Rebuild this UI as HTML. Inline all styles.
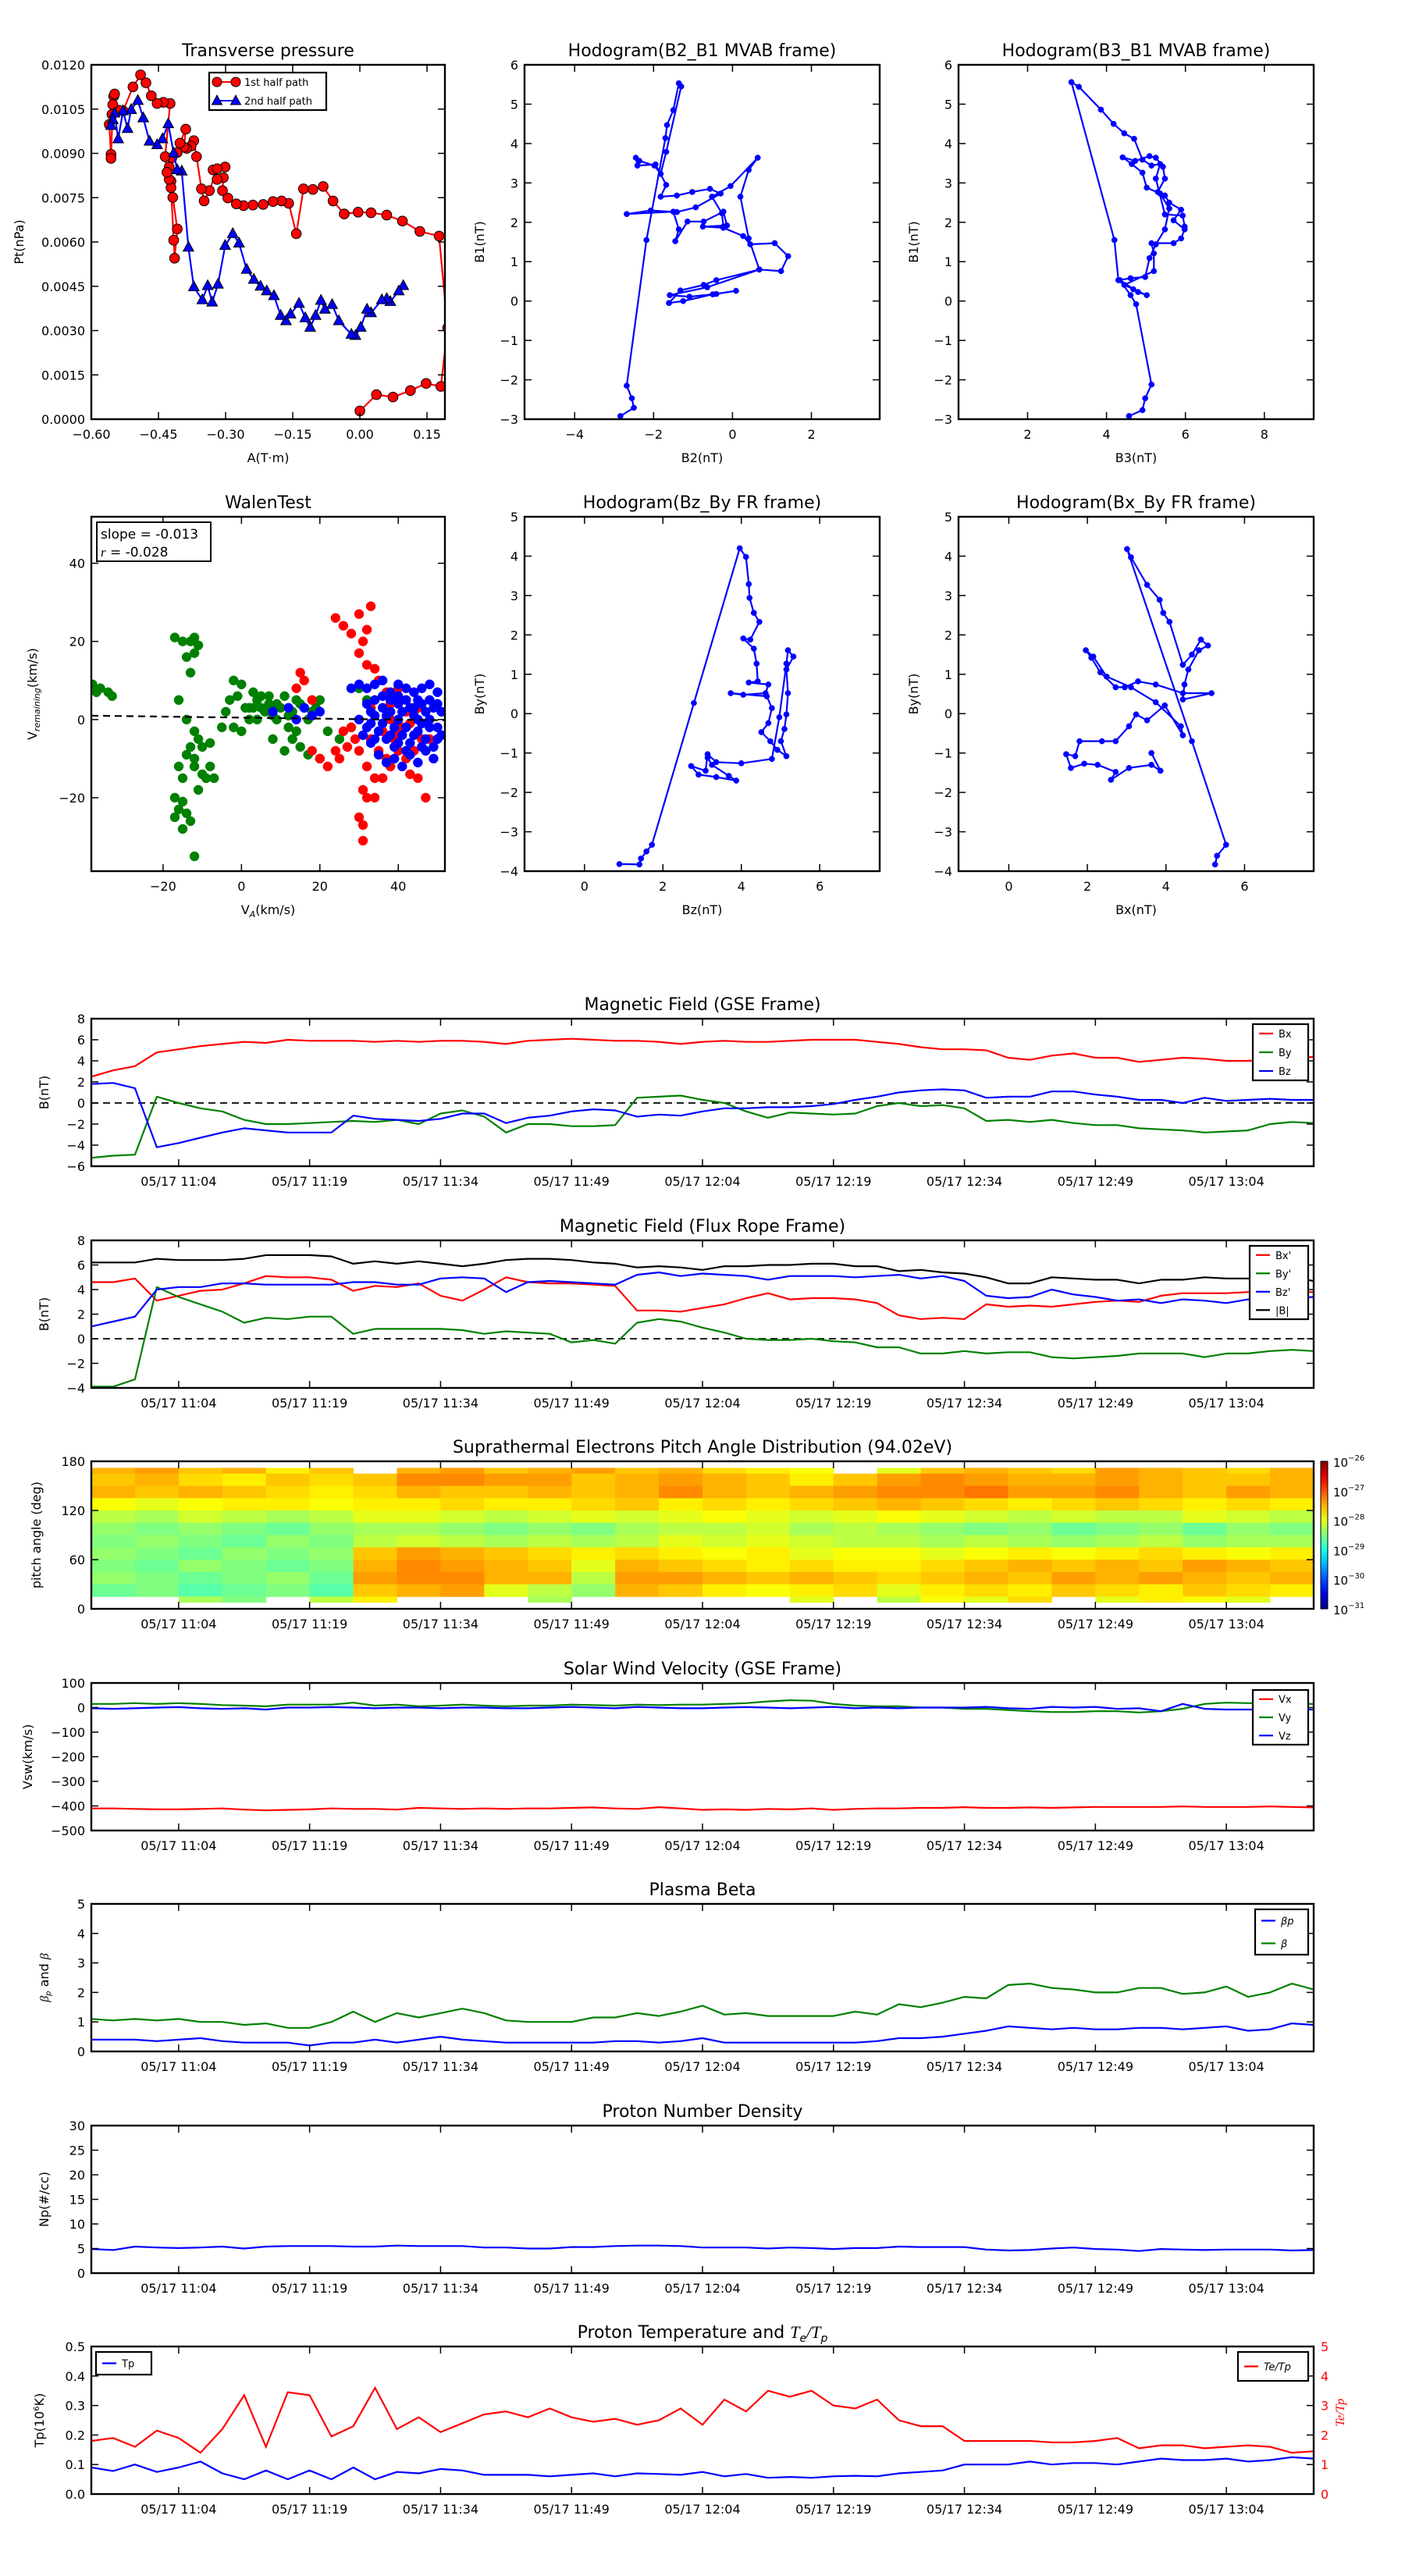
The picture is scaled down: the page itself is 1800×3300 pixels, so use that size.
<!DOCTYPE html>
<html><head><meta charset="utf-8">
<style>
html,body{margin:0;padding:0;background:#fff;}
svg{display:block;font-family:"DejaVu Sans","Liberation Sans",sans-serif;}
</style></head>
<body>
<svg id="fig" xmlns="http://www.w3.org/2000/svg" width="1800" height="3300" viewBox="0 0 1800 3300">
<rect x="0" y="0" width="1800" height="3300" fill="#fff"/>
</svg>
<script>
// ---------------- DATA ----------------
const tMin=[0,2.5,5,7.5,10,12.5,15,17.5,20,22.5,25,27.5,30,32.5,35,37.5,40,42.5,45,47.5,50,52.5,55,57.5,60,62.5,65,67.5,70,72.5,75,77.5,80,82.5,85,87.5,90,92.5,95,97.5,100,102.5,105,107.5,110,112.5,115,117.5,120,122.5,125,127.5,130,132.5,135,137.5,140];
const timeTicks=[10,25,40,55,70,85,100,115,130];
const timeTickLabels=['05/17 11:04','05/17 11:19','05/17 11:34','05/17 11:49','05/17 12:04','05/17 12:19','05/17 12:34','05/17 12:49','05/17 13:04'];

const gseBx=[2.5,3.1,3.5,4.8,5.1,5.4,5.6,5.8,5.7,6.0, 5.9,5.9,5.9,5.8,5.9,5.8,5.9,5.9,5.8,5.6, 5.9,6.0,6.1,6.0,5.9,5.9,5.8,5.6,5.8,5.9, 5.8,5.8,5.9,6.0,6.0,6.0,5.8,5.6,5.3,5.1, 5.1,5.0,4.3,4.1,4.5,4.7,4.3,4.3,3.9,4.1, 4.3,4.2,4.0,4.0,4.1,4.1,4.4];
const gseBy=[-5.2,-5.0,-4.9,0.6,0.0,-0.5,-0.8,-1.6,-2.0,-2.0, -1.9,-1.8,-1.7,-1.8,-1.6,-2.0,-1.0,-0.7,-1.3,-2.8, -2.0,-2.0,-2.2,-2.2,-2.1,0.5,0.6,0.7,0.3,0.0, -0.8,-1.4,-0.9,-1.0,-1.1,-1.0,-0.3,0.0,-0.3,-0.2, -0.5,-1.7,-1.6,-1.8,-1.6,-1.9,-2.1,-2.1,-2.4,-2.5, -2.6,-2.8,-2.7,-2.6,-2.0,-1.8,-1.9];
const gseBz=[1.8,1.9,1.4,-4.2,-3.8,-3.3,-2.8,-2.4,-2.6,-2.8, -2.8,-2.8,-1.2,-1.5,-1.6,-1.7,-1.5,-1.0,-1.0,-1.9, -1.4,-1.2,-0.8,-0.6,-0.7,-1.3,-1.1,-1.2,-0.8,-0.5, -0.5,-0.4,-0.4,-0.3,-0.1,0.3,0.6,1.0,1.2,1.3, 1.2,0.5,0.6,0.6,1.1,1.1,0.8,0.6,0.3,0.3, 0.0,0.5,0.2,0.3,0.4,0.3,0.3];

const frBx=[4.6,4.6,4.9,3.1,3.5,3.9,4.0,4.5,5.1,5.0, 5.0,4.8,3.9,4.3,4.2,4.5,3.5,3.1,4.0,5.0, 4.6,4.5,4.5,4.4,4.3,2.3,2.3,2.2,2.5,2.8, 3.3,3.7,3.2,3.3,3.3,3.2,2.9,1.9,1.6,1.7, 1.6,2.8,2.6,2.7,2.6,2.8,3.0,3.1,3.0,3.5, 3.7,3.7,3.7,3.8,3.8,3.8,3.8];
const frBy=[-3.9,-3.9,-3.3,4.2,3.4,2.8,2.2,1.3,1.7,1.6, 1.8,1.8,0.4,0.8,0.8,0.8,0.8,0.7,0.4,0.6, 0.5,0.4,-0.3,-0.1,-0.4,1.3,1.6,1.4,0.9,0.5, 0.0,-0.1,-0.1,0.0,-0.2,-0.3,-0.7,-0.7,-1.2,-1.2, -1.0,-1.2,-1.1,-1.1,-1.5,-1.6,-1.5,-1.4,-1.2,-1.2, -1.2,-1.5,-1.2,-1.2,-1.0,-0.9,-1.0];
const frBz=[1.0,1.4,1.8,4.0,4.2,4.2,4.5,4.5,4.4,4.4, 4.4,4.4,4.6,4.6,4.4,4.4,4.9,5.0,4.9,3.8, 4.6,4.7,4.6,4.5,4.4,5.2,5.4,5.1,5.3,5.2, 5.1,4.8,5.1,5.1,5.1,5.0,5.1,5.2,4.9,5.1, 4.7,3.5,3.3,3.4,4.0,3.6,3.4,3.1,3.2,2.9, 3.2,3.1,2.9,3.2,3.2,3.3,3.4];
const frB=[6.2,6.2,6.2,6.5,6.4,6.4,6.4,6.5,6.8,6.8, 6.8,6.7,6.1,6.3,6.1,6.3,6.1,5.9,6.1,6.4, 6.5,6.5,6.4,6.2,6.1,5.8,5.9,5.8,5.6,5.9, 5.9,6.0,6.0,6.1,6.1,5.9,5.9,5.5,5.6,5.4, 5.3,5.0,4.5,4.5,5.0,4.9,4.8,4.8,4.5,4.8, 4.8,5.0,4.9,4.9,5.0,5.0,4.7];

const swVx=[-410,-410,-412,-414,-414,-412,-410,-415,-418,-416, -414,-410,-412,-412,-415,-408,-410,-412,-410,-412, -410,-410,-408,-406,-410,-412,-405,-410,-416,-414, -416,-412,-414,-410,-416,-412,-410,-410,-408,-408, -405,-408,-408,-406,-408,-406,-404,-404,-404,-404, -402,-404,-404,-404,-402,-404,-406];
const swVy=[15,15,18,15,18,15,10,8,5,12, 12,12,20,8,12,5,8,12,8,5, 8,8,12,10,8,12,10,12,12,15, 18,25,30,28,15,8,5,5,0,0, -5,-5,-10,-15,-18,-18,-15,-15,-20,-15, -5,15,20,18,18,15,15];
const swVz=[-3,-5,-3,0,2,-3,-5,-3,-8,0, 0,2,0,-3,0,0,-3,0,0,-3, -3,0,3,0,-3,3,0,-3,-3,0, 2,0,-3,0,3,-3,0,-3,0,0, 0,3,-3,-5,3,0,3,-5,-3,-15, 15,-5,-8,-8,-8,-8,-8];

const betaTot=[1.1,1.05,1.1,1.05,1.1,1.0,1.0,0.9,0.95,0.8, 0.8,1.0,1.35,1.0,1.3,1.15,1.3,1.45,1.3,1.05, 1.0,1.0,1.0,1.15,1.15,1.3,1.2,1.35,1.55,1.25, 1.3,1.2,1.2,1.2,1.2,1.35,1.25,1.6,1.5,1.65, 1.85,1.8,2.25,2.3,2.15,2.1,2.0,2.0,2.15,2.15, 1.95,2.0,2.2,1.85,2.0,2.3,2.1];
const betaP=[0.4,0.4,0.4,0.35,0.4,0.45,0.35,0.3,0.3,0.3, 0.2,0.3,0.3,0.4,0.3,0.4,0.5,0.4,0.35,0.3, 0.3,0.3,0.3,0.3,0.35,0.35,0.3,0.35,0.45,0.3, 0.3,0.3,0.3,0.3,0.3,0.3,0.35,0.45,0.45,0.5, 0.6,0.7,0.85,0.8,0.75,0.8,0.75,0.75,0.8,0.8, 0.75,0.8,0.85,0.7,0.75,0.95,0.9];

const npVals=[4.9,4.7,5.4,5.2,5.1,5.2,5.4,5.0,5.4,5.5, 5.5,5.5,5.4,5.4,5.6,5.5,5.5,5.5,5.2,5.2, 5.0,5.0,5.3,5.3,5.5,5.6,5.6,5.5,5.2,5.2, 5.2,5.0,5.2,5.1,4.9,5.1,5.1,5.4,5.3,5.3, 5.3,4.8,4.6,4.7,5.0,5.2,4.9,4.8,4.5,4.9, 4.8,4.7,4.8,4.8,4.8,4.6,4.7];

const tpVals=[0.09,0.078,0.1,0.075,0.09,0.11,0.07,0.05,0.08,0.05, 0.08,0.05,0.09,0.05,0.075,0.07,0.085,0.08,0.065,0.065, 0.065,0.06,0.065,0.07,0.06,0.07,0.068,0.065,0.075,0.06, 0.068,0.055,0.058,0.055,0.06,0.062,0.06,0.07,0.075,0.08, 0.1,0.1,0.1,0.11,0.1,0.105,0.105,0.1,0.11,0.12, 0.115,0.115,0.12,0.11,0.115,0.125,0.12];
const teTpVals=[1.8,1.9,1.6,2.15,1.9,1.4,2.2,3.35,1.6,3.45, 3.35,1.95,2.3,3.6,2.2,2.6,2.1,2.4,2.7,2.8, 2.6,2.9,2.6,2.45,2.55,2.35,2.5,2.9,2.35,3.2, 2.8,3.5,3.3,3.5,3.0,2.9,3.2,2.5,2.3,2.3, 1.8,1.8,1.8,1.8,1.75,1.75,1.8,1.9,1.55,1.65, 1.65,1.55,1.6,1.65,1.6,1.4,1.45];

// Pitch angle distribution: log10 flux, rows top (high angle) -> bottom
const padColT=[0,5,10,15,20,25,30,35,40,45,50,55,60,65,70,75,80,85,90,95,100,105,110,115,120,125,130,135,140];
const padAngEdges=[172,165,150,135,120,105,90,75,60,45,30,15,8];
const padRows=[
[-27.5,-27.4,-27.6,-27.5,-27.8,-27.6,null,-27.5,-27.4,-27.6,-27.5,-27.4,-27.6,-27.5,-27.7,-27.8,-27.9,null,-28.0,-27.6,-27.5,-27.6,-27.7,-27.4,-27.5,-27.6,-27.7,-27.5],
[-27.6,-27.5,-27.7,-27.8,-27.6,-27.7,-27.6,-27.3,-27.3,-27.4,-27.4,-27.6,-27.5,-27.4,-27.5,-27.6,-27.8,-27.6,-27.4,-27.3,-27.4,-27.5,-27.5,-27.4,-27.5,-27.6,-27.6,-27.5],
[-27.5,-27.6,-27.5,-27.6,-27.7,-27.8,-27.7,-27.5,-27.6,-27.6,-27.5,-27.6,-27.5,-27.3,-27.5,-27.6,-27.5,-27.4,-27.3,-27.3,-27.2,-27.4,-27.4,-27.3,-27.5,-27.6,-27.4,-27.5],
[-27.9,-28.0,-27.9,-27.8,-27.8,-27.9,-27.8,-27.8,-27.7,-27.8,-27.8,-27.7,-27.6,-27.8,-27.7,-27.8,-27.7,-27.6,-27.5,-27.6,-27.7,-27.8,-27.7,-27.6,-27.7,-27.8,-27.7,-27.8],
[-28.2,-28.3,-28.1,-28.2,-28.3,-28.2,-28.0,-28.0,-28.1,-28.2,-28.1,-28.0,-28.1,-28.0,-27.9,-28.0,-28.1,-28.0,-27.9,-28.0,-28.1,-28.2,-28.1,-28.2,-28.2,-28.0,-28.1,-28.2],
[-28.4,-28.5,-28.4,-28.5,-28.6,-28.4,-28.3,-28.3,-28.4,-28.5,-28.4,-28.5,-28.3,-28.2,-28.2,-28.1,-28.3,-28.2,-28.3,-28.4,-28.5,-28.4,-28.6,-28.5,-28.4,-28.6,-28.4,-28.5],
[-28.5,-28.4,-28.5,-28.6,-28.4,-28.5,-28.2,-28.1,-28.2,-28.3,-28.2,-28.3,-28.2,-28.0,-28.1,-28.0,-28.1,-28.2,-28.2,-28.3,-28.2,-28.3,-28.4,-28.3,-28.2,-28.4,-28.3,-28.3],
[-28.4,-28.5,-28.6,-28.4,-28.5,-28.4,-27.6,-27.4,-27.5,-27.6,-27.7,-27.8,-27.7,-27.8,-27.9,-27.8,-28.0,-27.9,-27.9,-28.0,-27.9,-27.8,-27.9,-27.8,-27.7,-27.8,-27.9,-27.8],
[-28.5,-28.6,-28.4,-28.5,-28.6,-28.5,-27.5,-27.3,-27.4,-27.5,-27.6,-28.0,-27.5,-27.6,-27.7,-27.8,-27.7,-27.8,-27.8,-27.7,-27.6,-27.5,-27.6,-27.5,-27.6,-27.4,-27.5,-27.6],
[-28.4,-28.5,-28.6,-28.5,-28.4,-28.6,-27.4,-27.3,-27.3,-27.5,-27.5,-28.2,-27.4,-27.4,-27.5,-27.6,-27.5,-27.6,-27.7,-27.6,-27.5,-27.6,-27.4,-27.5,-27.4,-27.5,-27.6,-27.5],
[-28.6,-28.5,-28.7,-28.6,-28.5,-28.7,-27.6,-27.5,-27.4,-28.0,-28.2,-28.4,-27.5,-27.6,-27.8,-27.9,-27.8,-27.7,-28.0,-27.8,-27.7,-27.8,-27.6,-27.7,-27.8,-27.6,-27.7,-27.8],
[null,null,-28.3,-28.5,null,-28.2,-27.8,null,null,null,-28.3,null,null,null,null,null,-28.0,null,-28.2,-27.9,-28.0,-27.7,null,-28.0,-27.8,-27.9,-28.0,null]
];

// Transverse pressure
const pt1A=[0.000,0.037,0.074,0.113,0.148,0.181,0.196,0.177,0.134,0.095,0.060,0.025,-0.004,-0.035,-0.060,-0.082,-0.105,-0.126,-0.142,-0.159,-0.175,-0.194,-0.216,-0.239,-0.260,-0.276,-0.295,-0.307,-0.305,-0.319,-0.328,-0.301,-0.319,-0.336,-0.348,-0.354,-0.365,-0.371,-0.377,-0.387,-0.393,-0.389,-0.402,-0.408,-0.420,-0.426,-0.422,-0.418,-0.408,-0.414,-0.416,-0.422,-0.426,-0.431,-0.435,-0.424,-0.439,-0.453,-0.466,-0.478,-0.490,-0.507,-0.529,-0.538,-0.550,-0.554,-0.560,-0.556,-0.556,-0.552,-0.548];
const pt1P=[0.00028,0.00083,0.00075,0.00097,0.00121,0.00111,0.00309,0.00620,0.00636,0.00671,0.00691,0.00699,0.00701,0.00695,0.00739,0.00788,0.00778,0.00780,0.00628,0.00731,0.00739,0.00737,0.00727,0.00725,0.00723,0.00729,0.00749,0.00774,0.00818,0.00812,0.00844,0.00854,0.00848,0.00774,0.00739,0.00780,0.00889,0.00943,0.00925,0.00917,0.00921,0.00982,0.00935,0.00903,0.00885,0.00854,0.00806,0.00751,0.00644,0.00545,0.00606,0.00784,0.00812,0.00836,0.00889,0.01069,0.01073,0.01069,0.01095,0.01139,0.01166,0.01125,0.01044,0.01046,0.01093,0.01032,0.00998,0.00897,0.00883,0.01065,0.01101];
const pt2A=[0.097,0.087,0.068,0.060,0.049,0.025,0.016,0.002,-0.010,-0.019,-0.047,-0.062,-0.078,-0.087,-0.099,-0.111,-0.122,-0.136,-0.155,-0.165,-0.177,-0.192,-0.208,-0.222,-0.237,-0.253,-0.270,-0.284,-0.301,-0.317,-0.330,-0.340,-0.352,-0.371,-0.383,-0.398,-0.408,-0.416,-0.428,-0.441,-0.453,-0.470,-0.484,-0.496,-0.511,-0.519,-0.529,-0.540,-0.548,-0.552,-0.556];
const pt2P=[0.00452,0.00434,0.00398,0.00408,0.00404,0.00360,0.00372,0.00311,0.00283,0.00287,0.00333,0.00388,0.00372,0.00402,0.00351,0.00311,0.00343,0.00392,0.00356,0.00333,0.00351,0.00418,0.00434,0.00450,0.00473,0.00507,0.00596,0.00628,0.00588,0.00457,0.00396,0.00452,0.00404,0.00448,0.00582,0.00840,0.00844,0.00901,0.01000,0.00949,0.00929,0.00941,0.01020,0.01079,0.01048,0.00984,0.01044,0.00949,0.01036,0.01014,0.00994];

// Hodograms
const h1B2=[-2.84,-2.50,-2.55,-2.68,-2.18,-1.70,-1.66,-1.50,-1.36,-1.30,-1.68,-1.82,-1.98,-2.36,-2.45,-2.41,-1.95,-1.68,-1.82,-1.41,-1.02,-0.57,-0.30,-0.93,-1.41,-2.07,-2.68,-1.50,-1.36,-1.45,-1.14,-0.73,-0.23,-0.14,-0.75,-0.23,0.27,0.45,1.07,1.41,1.23,0.68,-0.41,-0.73,-1.32,-1.61,-1.25,-0.50,0.09,-0.41,-1.09,-1.59,-0.64,0.68,0.41,0.20,0.41,0.64,-0.05,-0.52,-0.27,-0.23];
const h1B1=[-2.92,-2.71,-2.47,-2.15,1.55,4.14,4.47,4.85,5.53,5.45,3.79,3.23,3.44,3.56,3.64,3.44,3.47,2.95,2.65,2.68,2.77,2.85,2.73,2.38,2.26,2.30,2.21,2.27,1.82,1.52,2.02,2.02,2.27,1.92,1.89,1.86,1.65,1.44,1.47,1.14,0.76,0.80,0.53,0.41,0.27,-0.05,0.00,0.17,0.26,0.18,0.11,0.15,0.35,0.80,1.59,2.65,3.33,3.64,2.92,2.65,2.23,1.89];
const h2B3=[4.57,4.91,4.98,5.14,4.75,4.61,4.34,4.80,5.02,4.68,4.45,5.20,5.20,5.14,5.70,5.89,5.98,5.70,5.89,5.59,5.48,5.30,5.48,5.43,5.25,5.09,4.73,4.41,4.64,4.91,5.02,5.36,5.59,5.48,5.25,5.09,4.98,4.61,4.30,4.20,3.11,3.30,3.86,4.18,4.45,4.70,4.91,5.14,5.36,5.25,5.48,5.93,5.98];
const h2B1=[-2.92,-2.77,-2.47,-2.12,-0.08,0.15,0.53,0.23,0.15,0.30,0.41,0.76,1.21,1.47,1.47,1.59,1.82,2.05,2.32,2.50,2.68,2.77,3.11,3.41,3.64,3.68,3.56,3.65,3.48,3.26,2.88,2.73,2.35,1.82,1.44,1.09,0.61,0.58,0.53,1.55,5.56,5.44,4.86,4.50,4.26,4.12,3.59,3.44,3.48,3.11,2.20,2.17,1.89];
const h3Bz=[0.89,1.40,1.44,1.58,1.72,2.79,3.96,4.12,4.19,4.21,4.32,4.46,4.23,4.05,4.32,4.39,4.42,4.19,4.69,4.62,4.05,3.73,4.65,4.78,4.69,4.51,4.74,4.92,5.15,5.01,5.10,5.15,5.19,5.15,5.33,5.19,5.15,4.97,4.78,4.00,3.36,3.14,3.09,2.72,2.91,3.36,3.87,3.68,3.25,3.14];
const h3By=[-3.82,-3.83,-3.68,-3.50,-3.33,0.27,4.20,3.98,3.29,2.94,2.56,2.33,1.88,1.91,1.65,1.27,0.82,0.79,0.74,0.52,0.48,0.52,0.44,0.14,-0.24,-0.47,-0.70,-0.92,-1.08,-0.70,-0.39,-0.02,0.52,1.12,1.45,1.61,1.27,-0.09,-1.15,-1.26,-1.23,-1.03,-1.45,-1.33,-1.55,-1.61,-1.70,-1.58,-1.30,-1.12];
const h4Bx=[5.25,5.30,5.53,4.66,3.01,3.11,3.52,3.84,3.93,4.09,4.43,4.66,4.89,5.07,4.84,4.57,4.47,4.43,5.16,4.43,3.74,3.29,2.95,2.72,2.33,2.10,1.96,2.15,2.49,3.11,3.74,4.38,4.43,3.97,3.52,3.24,3.06,2.72,2.37,1.80,1.69,1.46,1.58,1.92,2.26,2.72,2.60,3.06,3.63,3.86,3.63];
const h4By=[-3.83,-3.61,-3.33,-0.70,4.18,3.97,3.27,2.89,2.56,2.33,1.24,1.50,1.88,1.73,1.61,1.12,0.74,0.36,0.52,0.52,0.74,0.82,0.67,0.67,1.05,1.42,1.61,1.45,0.94,0.67,0.29,-0.32,-0.55,0.21,-0.17,-0.02,-0.32,-0.70,-0.70,-0.70,-1.08,-1.03,-1.38,-1.27,-1.30,-1.48,-1.68,-1.38,-1.30,-1.45,-1.00];

// Walen test
const walenGreen=[[-38,9],[-37,7],[-36,8],[-34,7],[-33,6],[-17,21],[-15,20],[-13,20],[-12,21],[-11,19],[-12,17],[-14,16],[-13,12],[-16,5],[-14,0],[-12,-3],[-11,-5],[-13,-7],[-14,-9],[-12,-10],[-10,-7],[-8,-6],[-16,-12],[-15,-15],[-12,-12],[-10,-14],[-8,-12],[-7,-15],[-17,-20],[-15,-21],[-16,-23],[-17,-25],[-15,-28],[-13,-26],[-14,-24],[-12,-35],[-9,-15],[-11,-18],[-5,-2],[-4,2],[-3,5],[-2,10],[0,9],[-1,6],[1,3],[2,0],[3,7],[4,5],[5,3],[6,2],[7,6],[8,1],[9,4],[10,3],[11,6],[12,1],[13,2],[14,5],[15,4],[16,3],[17,0],[18,2],[19,3],[20,5],[8,-5],[11,-8],[13,-5],[15,-7],[14,-3],[17,-9],[20,-10],[22,-3],[25,-5],[28,-2],[-2,-2],[0,-3],[2,3],[5,6],[7,4],[3,3],[4,0],[9,0],[12,-2],[30,8],[32,5]];
const walenRed=[[24,26],[26,24],[28,22],[30,27],[31,20],[32,23],[33,29],[30,17],[32,14],[34,13],[35,10],[37,7],[38,4],[40,8],[42,5],[44,2],[46,-1],[48,-5],[26,-3],[28,-2],[30,-8],[32,-12],[34,-15],[31,-18],[32,-20],[31,-27],[30,-25],[31,-31],[34,-20],[36,-15],[38,-12],[40,-8],[43,-14],[45,-15],[47,-20],[42,-10],[36,-3],[38,0],[40,-3],[42,2],[44,-8],[46,-5],[25,-10],[27,-7],[29,-5],[33,-5],[35,-8],[37,-10],[39,-5],[41,-2],[43,-1],[45,3],[15,12],[16,10],[14,8],[18,-8],[20,-10],[22,-12],[24,-8],[18,5],[33,3]];
const walenBlue=[[8,2],[12,3],[16,3],[18,1],[14,0],[20,2],[28,8],[30,9],[32,8],[34,9],[36,10],[38,7],[40,9],[42,8],[44,7],[46,8],[48,9],[50,7],[30,0],[32,-2],[34,1],[36,-1],[38,2],[40,0],[42,-2],[44,1],[46,-1],[48,0],[50,-2],[51,2],[31,-4],[33,-6],[35,-3],[37,-5],[39,-7],[41,-4],[43,-6],[45,-3],[47,-5],[49,-7],[51,-4],[32,4],[34,5],[36,3],[38,5],[40,4],[42,5],[44,3],[46,4],[48,5],[50,4],[35,-9],[37,-11],[39,-10],[41,-12],[43,-9],[45,-11],[47,-8],[49,-10],[33,-1],[37,1],[41,2],[45,0],[49,3],[39,-2],[43,3],[47,2],[34,-5],[40,-6],[46,-7],[50,-5],[36,6],[42,-8],[44,-4],[48,-2],[38,-4],[45,5],[40,6],[33,2]];
const walenSlope=-0.013;
const walenIntercept=0.5;

// ---------------- DRAWING ----------------
const NS='http://www.w3.org/2000/svg';
const svg=document.getElementById('fig');
let clipId=0;
function mk(tag,attrs,parent){const e=document.createElementNS(NS,tag);for(const k in attrs)e.setAttribute(k,attrs[k]);(parent||svg).appendChild(e);return e;}
function txt(s,attrs,parent){const e=mk('text',attrs,parent);e.textContent=s;return e;}
function fmtMinus(s){return String(s).replace('-','\u2212');}

function makeAxes(name,L,T,W,H,xmin,xmax,ymin,ymax){
  const g=mk('g',{});
  
  
  const id='clip'+(clipId++);
  const cp=mk('clipPath',{id:id},g);
  mk('rect',{x:L,y:T,width:W,height:H},cp);
  const sx=v=>L+(v-xmin)/(xmax-xmin)*W;
  const sy=v=>T+H-(v-ymin)/(ymax-ymin)*H;
  const inner=mk('g',{'clip-path':'url(#'+id+')'},g);
  
  
  return {g,inner,sx,sy,L,T,W,H};
}
function frame(ax){
  const r=mk('rect',{x:ax.L,y:ax.T,width:ax.W,height:ax.H,fill:'none',stroke:'#000','stroke-width':2.4},ax.g);
  
  
}
function title(ax,s){
  const t=txt(s,{x:ax.L+ax.W/2,y:ax.T-11,'text-anchor':'middle','font-size':22},ax.g);
  
  
  return t;
}
function xTicks(ax,vals,labels){
  vals.forEach((v,i)=>{
    const x=ax.sx(v);
    const a=mk('line',{x1:x,x2:x,y1:ax.T+ax.H,y2:ax.T+ax.H-9,stroke:'#000','stroke-width':1.5},ax.g);
    
    
    const b=mk('line',{x1:x,x2:x,y1:ax.T,y2:ax.T+9,stroke:'#000','stroke-width':1.5},ax.g);
    
    
    const t=txt(fmtMinus(labels[i]),{x:x,y:ax.T+ax.H+25,'text-anchor':'middle','font-size':16},ax.g);
    
    
  });
}
function yTicks(ax,vals,labels,right,color){
  vals.forEach((v,i)=>{
    const y=ax.sy(v);
    if(!right){
      const a=mk('line',{x1:ax.L,x2:ax.L+9,y1:y,y2:y,stroke:'#000','stroke-width':1.5},ax.g);
      
      
      const t=txt(fmtMinus(labels[i]),{x:ax.L-8,y:y+6,'text-anchor':'end','font-size':16},ax.g);
      
      
    }
    if(right!==false||!right){
      const b=mk('line',{x1:ax.L+ax.W,x2:ax.L+ax.W-9,y1:y,y2:y,stroke:'#000','stroke-width':1.5},ax.g);
      
      
    }
    if(right){
      const t=txt(labels[i],{x:ax.L+ax.W+9,y:y+6,'text-anchor':'start','font-size':16,fill:color},ax.g);
      
      
    }
  });
}
function xLabel(ax,s,dy){
  const t=txt(s,{x:ax.L+ax.W/2,y:ax.T+ax.H+(dy||55),'text-anchor':'middle','font-size':16},ax.g);
  
  
  return t;
}
function yLabel(ax,s,x,color){
  const cy=ax.T+ax.H/2;
  const t=txt(s,{x:x,y:cy,'text-anchor':'middle','font-size':16,transform:'rotate(-90 '+x+' '+cy+')',fill:color||'#000'},ax.g);
  
  
  return t;
}
function line(ax,xs,ys,color,name,dash){
  const n=Math.min(xs.length,ys.length);
  let pts=[];
  for(let i=0;i<n;i++)pts.push(ax.sx(xs[i]).toFixed(1)+','+ax.sy(ys[i]).toFixed(1));
  const p=mk('polyline',{points:pts.join(' '),fill:'none',stroke:color,'stroke-width':2.2,'stroke-linejoin':'round'},ax.inner);
  if(dash)p.setAttribute('stroke-dasharray',dash);
  
  
  return p;
}
function dots(ax,xs,ys,color,r,name){
  const n=Math.min(xs.length,ys.length);
  for(let i=0;i<n;i++){
    const c=mk('circle',{cx:ax.sx(xs[i]),cy:ax.sy(ys[i]),r:r,fill:color,stroke:color,'stroke-width':0.5},ax.inner);
    
    
  }
}
function zeroLine(ax,xmin,xmax){
  const l=mk('line',{x1:ax.sx(xmin),x2:ax.sx(xmax),y1:ax.sy(0),y2:ax.sy(0),stroke:'#000','stroke-width':1.8,'stroke-dasharray':'9,6'},ax.inner);
  
  
}
function legendBox(ax,x,y,w,h,items,name){
  const g=mk('g',{},ax.g);
  
  
  const r=mk('rect',{x:x,y:y,width:w,height:h,fill:'#fff',stroke:'#000','stroke-width':2.2},g);
  
  
  const step=h/items.length;
  items.forEach((it,i)=>{
    const cy=y+step*(i+0.5);
    const l=mk('line',{x1:x+8,x2:x+26,y1:cy,y2:cy,stroke:it.c,'stroke-width':2.2},g);
    
    
    const t=txt(it.t,{x:x+33,y:cy+5,'font-size':13,'font-style':it.i?'italic':'normal'},g);
    
    
  });
  return g;
}

// ---------- Transverse pressure ----------
(function(){
  const ax=makeAxes('transverse-pressure-chart',117,83,453,454,-0.6,0.19,0,0.012);
  const A=pt1A, P=pt1P;
  line(ax,A,P,'#ff0000','first-half-path-line');
  A.forEach((a,i)=>{const c=mk('circle',{cx:ax.sx(a),cy:ax.sy(P[i]),r:6.3,fill:'#ff0000',stroke:'#000','stroke-width':1},ax.inner);
    
    });
  line(ax,pt2A,pt2P,'#0000ff','second-half-path-line');
  pt2A.forEach((a,i)=>{const x=ax.sx(a),y=ax.sy(pt2P[i]);
    const p=mk('polygon',{points:(x)+','+(y-7.5)+' '+(x-6.8)+','+(y+5)+' '+(x+6.8)+','+(y+5),fill:'#0000ff',stroke:'#000','stroke-width':1},ax.inner);
    
    });
  frame(ax);
  title(ax,'Transverse pressure');
  xTicks(ax,[-0.6,-0.45,-0.3,-0.15,0,0.15],['-0.60','-0.45','-0.30','-0.15','0.00','0.15']);
  yTicks(ax,[0,0.0015,0.003,0.0045,0.006,0.0075,0.009,0.0105,0.012],['0.0000','0.0015','0.0030','0.0045','0.0060','0.0075','0.0090','0.0105','0.0120']);
  xLabel(ax,'A(T·m)');
  yLabel(ax,'Pt(nPa)',30);
  const g=mk('g',{},ax.g);
  
  
  const r=mk('rect',{x:268,y:93,width:150,height:48,fill:'#fff',stroke:'#000','stroke-width':2.2},g);
  
  
  const l1=mk('line',{x1:278,x2:302,y1:105,y2:105,stroke:'#ff0000','stroke-width':2},g);
  
  
  [278,302].forEach(x=>{const c=mk('circle',{cx:x,cy:105,r:6,fill:'#ff0000',stroke:'#000','stroke-width':1},g);
    
    });
  const t1=txt('1st half path',{x:313,y:110,'font-size':13},g);
  
  
  const l2=mk('line',{x1:278,x2:302,y1:129,y2:129,stroke:'#0000ff','stroke-width':2},g);
  
  
  [278,302].forEach(x=>{const p=mk('polygon',{points:x+','+122+' '+(x-6.5)+','+134+' '+(x+6.5)+','+134,fill:'#0000ff',stroke:'#000','stroke-width':1},g);
    
    });
  const t2=txt('2nd half path',{x:313,y:134,'font-size':13},g);
  
  
})();

// ---------- Hodograms ----------
function hodo(name,L,T,xr,yr,xs,ys,xt,yt,ttl,xl,yl){
  const ax=makeAxes(name,L,T,455,454,xr[0],xr[1],yr[0],yr[1]);
  line(ax,xs,ys,'#0000ff','hodogram-path');
  dots(ax,xs,ys,'#0000ff',3.6,'hodogram-point');
  frame(ax);
  title(ax,ttl);
  xTicks(ax,xt,xt.map(String));
  yTicks(ax,yt,yt.map(String));
  xLabel(ax,xl);
  yLabel(ax,yl,L-52);
}
hodo('hodogram-b2-b1',672,83,[-5.27,3.73],[-3,6],h1B2,h1B1,[-4,-2,0,2],[-3,-2,-1,0,1,2,3,4,5,6],'Hodogram(B2_B1 MVAB frame)','B2(nT)','B1(nT)');
hodo('hodogram-b3-b1',1228,83,[0.25,9.25],[-3,6],h2B3,h2B1,[2,4,6,8],[-3,-2,-1,0,1,2,3,4,5,6],'Hodogram(B3_B1 MVAB frame)','B3(nT)','B1(nT)');
hodo('hodogram-bz-by',672,662,[-1.53,7.53],[-4,5],h3Bz,h3By,[0,2,4,6],[-4,-3,-2,-1,0,1,2,3,4,5],'Hodogram(Bz_By FR frame)','Bz(nT)','By(nT)');
hodo('hodogram-bx-by',1228,662,[-1.28,7.76],[-4,5],h4Bx,h4By,[0,2,4,6],[-4,-3,-2,-1,0,1,2,3,4,5],'Hodogram(Bx_By FR frame)','Bx(nT)','By(nT)');

// ---------- Walen test ----------
(function(){
  const ax=makeAxes('walen-test-chart',117,662,453,454,-38.3,51.9,-38.8,51.9);
  const gx=walenGreen.map(p=>p[0]), gy=walenGreen.map(p=>p[1]);
  const rx=walenRed.map(p=>p[0]), ry=walenRed.map(p=>p[1]);
  const bx=walenBlue.map(p=>p[0]), by=walenBlue.map(p=>p[1]);
  dots(ax,gx,gy,'#008000',6,'walen-point-green');
  dots(ax,rx,ry,'#ff0000',6,'walen-point-red');
  dots(ax,bx,by,'#0000ff',6,'walen-point-blue');
  const x0=-38.3,x1=51.9;
  line(ax,[x0,x1],[walenIntercept+walenSlope*x0,walenIntercept+walenSlope*x1],'#000','regression-line','9,6');
  frame(ax);
  title(ax,'WalenTest');
  xTicks(ax,[-20,0,20,40],['-20','0','20','40']);
  yTicks(ax,[-20,0,20,40],['-20','0','20','40']);
  const xl=xLabel(ax,'');
  xl.textContent='V';
  const s1=mk('tspan',{'font-size':11,dy:4,'font-style':'italic'},xl);s1.textContent='A';
  
  
  const s2=mk('tspan',{dy:-4},xl);s2.textContent='(km/s)';
  
  
  const yl=yLabel(ax,'',47);
  yl.textContent='V';
  const s3=mk('tspan',{'font-size':11,dy:4,'font-style':'italic'},yl);s3.textContent='remaining';
  
  
  const s4=mk('tspan',{dy:-4},yl);s4.textContent='(km/s)';
  
  
  const b=mk('rect',{x:124,y:669,width:146,height:50,fill:'#fff',stroke:'#000','stroke-width':2},ax.g);
  
  
  const t1=txt('slope = -0.013',{x:129,y:690,'font-size':17},ax.g);
  
  
  const t2=txt('',{x:129,y:713,'font-size':17},ax.g);
  
  
  const ti=mk('tspan',{'font-style':'italic','font-family':'Liberation Serif,serif'},t2);ti.textContent='r';
  
  
  const tr=mk('tspan',{},t2);tr.textContent=' = -0.028';
  
  
})();

// ---------- Time-series panels ----------
const TSL=117, TSW=1566, TSH=189;
function tsAxes(name,T,ymin,ymax,yt,ylab,ttl,ylx){
  const ax=makeAxes(name,TSL,T,TSW,TSH,0,140,ymin,ymax);
  ax.after=function(){
    frame(ax);
    title(ax,ttl);
    xTicks(ax,timeTicks,timeTickLabels);
    yTicks(ax,yt,yt.map(v=>String(v)));
    if(ylab)yLabel(ax,ylab,ylx||62);
  };
  return ax;
}

// GSE
(function(){
  const ax=tsAxes('magnetic-field-gse-chart',1305,-6,8,[-6,-4,-2,0,2,4,6,8],'B(nT)','Magnetic Field (GSE Frame)');
  zeroLine(ax,0,140);
  line(ax,tMin,gseBx,'#ff0000','bx-line');
  line(ax,tMin,gseBy,'#008000','by-line');
  line(ax,tMin,gseBz,'#0000ff','bz-line');
  ax.after();
  legendBox(ax,1605,1312,71,72,[{t:'Bx',c:'#ff0000'},{t:'By',c:'#008000'},{t:'Bz',c:'#0000ff'}],'legend');
})();
// FR
(function(){
  const ax=tsAxes('magnetic-field-flux-rope-chart',1589,-4,8,[-4,-2,0,2,4,6,8],'B(nT)','Magnetic Field (Flux Rope Frame)');
  zeroLine(ax,0,140);
  line(ax,tMin,frBx,'#ff0000','bx-prime-line');
  line(ax,tMin,frBy,'#008000','by-prime-line');
  line(ax,tMin,frBz,'#0000ff','bz-prime-line');
  line(ax,tMin,frB,'#000000','b-magnitude-line');
  ax.after();
  legendBox(ax,1601,1596,75,94,[{t:"Bx'",c:'#ff0000'},{t:"By'",c:'#008000'},{t:"Bz'",c:'#0000ff'},{t:'|B|',c:'#000'}],'legend');
})();
// PAD
function jet(v){
  const c=x=>Math.round(255*Math.max(0,Math.min(1,x)));
  return 'rgb('+c(1.5-Math.abs(4*v-3))+','+c(1.5-Math.abs(4*v-2))+','+c(1.5-Math.abs(4*v-1))+')';
}
(function(){
  const ax=tsAxes('pitch-angle-distribution-chart',1872,0,180,[0,60,120,180],'pitch angle (deg)','Suprathermal Electrons Pitch Angle Distribution (94.02eV)',52);
  padRows.forEach((row,ri)=>{
    row.forEach((v,ci)=>{
      if(v===null)return;
      const x0=ax.sx(padColT[ci]),x1=ax.sx(padColT[ci+1]);
      const y0=ax.sy(padAngEdges[ri]),y1=ax.sy(padAngEdges[ri+1]);
      const r=mk('rect',{x:x0,y:y0,width:x1-x0+0.5,height:y1-y0+0.5,fill:jet((v+31)/5)},ax.inner);
      
      
    });
  });
  ax.after();
  // colorbar
  const defs=mk('defs',{});
  const lg=mk('linearGradient',{id:'jetgrad',x1:0,y1:1,x2:0,y2:0},defs);
  for(let i=0;i<=10;i++){mk('stop',{offset:(i*10)+'%','stop-color':jet(i/10)},lg);}
  const cb=mk('rect',{x:1692,y:1872,width:9,height:189,fill:'url(#jetgrad)',stroke:'#000','stroke-width':1},ax.g);
  
  
  const cbTicks=[-26,-27,-28,-29,-30,-31];
  cbTicks.forEach(p=>{
    const y=1872+(-26-p)/5*189;
    const t=txt('10',{x:1708,y:y+7,'font-size':15},ax.g);
    
    
    const s=mk('tspan',{dy:-8,'font-size':10},t);s.textContent=String(p).replace('-','\u2212');
    
    
  });
})();
// Solar wind
(function(){
  const ax=tsAxes('solar-wind-velocity-chart',2156,-500,100,[-500,-400,-300,-200,-100,0,100],'Vsw(km/s)','Solar Wind Velocity (GSE Frame)',41);
  line(ax,tMin,swVx,'#ff0000','vx-line');
  line(ax,tMin,swVy,'#008000','vy-line');
  line(ax,tMin,swVz,'#0000ff','vz-line');
  ax.after();
  legendBox(ax,1605,2165,71,70,[{t:'Vx',c:'#ff0000'},{t:'Vy',c:'#008000'},{t:'Vz',c:'#0000ff'}],'legend');
})();
// Beta
(function(){
  const ax=tsAxes('plasma-beta-chart',2439,0,5,[0,1,2,3,4,5],null,'Plasma Beta');
  line(ax,tMin,betaP,'#0000ff','beta-p-line');
  line(ax,tMin,betaTot,'#008000','beta-line');
  ax.after();
  const yl=yLabel(ax,'',62);
  const a=mk('tspan',{'font-style':'italic','font-family':'Liberation Serif,serif'},yl);a.textContent='β';
  
  
  const b=mk('tspan',{'font-size':10,dy:3,'font-style':'italic'},yl);b.textContent='p';
  
  
  const c=mk('tspan',{dy:-3},yl);c.textContent=' and ';
  
  
  const d=mk('tspan',{'font-style':'italic','font-family':'Liberation Serif,serif'},yl);d.textContent='β';
  
  
  legendBox(ax,1608,2446,68,58,[{t:'βp',c:'#0000ff',i:true},{t:'β',c:'#008000',i:true}],'legend');
})();
// Np
(function(){
  const ax=tsAxes('proton-density-chart',2723,0,30,[0,5,10,15,20,25,30],'Np(#/cc)','Proton Number Density');
  line(ax,tMin,npVals,'#0000ff','np-line');
  ax.after();
})();
// Tp
(function(){
  const ax=makeAxes('proton-temperature-chart',TSL,3006,TSW,TSH,0,140,0,0.5);
  const sy2=v=>3006+TSH-v/5*TSH;
  line(ax,tMin,tpVals,'#0000ff','tp-line');
  const pts=tMin.map((t,i)=>ax.sx(t).toFixed(1)+','+sy2(teTpVals[i]).toFixed(1)).join(' ');
  const pl=mk('polyline',{points:pts,fill:'none',stroke:'#ff0000','stroke-width':2.2},ax.inner);
  
  
  frame(ax);
  const tt=title(ax,'Proton Temperature and ');
  const i1=mk('tspan',{'font-style':'italic','font-family':'Liberation Serif,serif'},tt);i1.textContent='T';
  
  
  const i2=mk('tspan',{'font-size':14,dy:5,'font-style':'italic'},tt);i2.textContent='e';
  
  
  const i3=mk('tspan',{dy:-5,'font-style':'italic','font-family':'Liberation Serif,serif'},tt);i3.textContent='/T';
  
  
  const i4=mk('tspan',{'font-size':14,dy:5,'font-style':'italic'},tt);i4.textContent='p';
  
  
  xTicks(ax,timeTicks,timeTickLabels);
  const yt=[0,0.1,0.2,0.3,0.4,0.5];
  yTicks(ax,yt,['0.0','0.1','0.2','0.3','0.4','0.5']);
  const y2=[0,1,2,3,4,5];
  y2.forEach(v=>{
    const t=txt(String(v),{x:ax.L+ax.W+9,y:sy2(v)+6,'font-size':16,fill:'#ff0000'},ax.g);
    
    
  });
  const yl=yLabel(ax,'Tp(10',56);
  const e=mk('tspan',{dy:-6,'font-size':10},yl);e.textContent='6';
  
  
  const k=mk('tspan',{dy:6},yl);k.textContent='K)';
  
  
  const cy=ax.T+ax.H/2-10;
  const r2=txt('Te/Tp',{x:1722,y:cy,'text-anchor':'middle','font-size':16,fill:'#ff0000','font-style':'italic','font-family':'Liberation Serif,serif',transform:'rotate(-90 1722 '+cy+')'},ax.g);
  
  
  legendBox(ax,123,3013,71,29,[{t:'Tp',c:'#0000ff'}],'legend-tp');
  legendBox(ax,1586,3013,90,37,[{t:'Te/Tp',c:'#ff0000',i:true}],'legend-te-tp');
})();
</script>
</body></html>
